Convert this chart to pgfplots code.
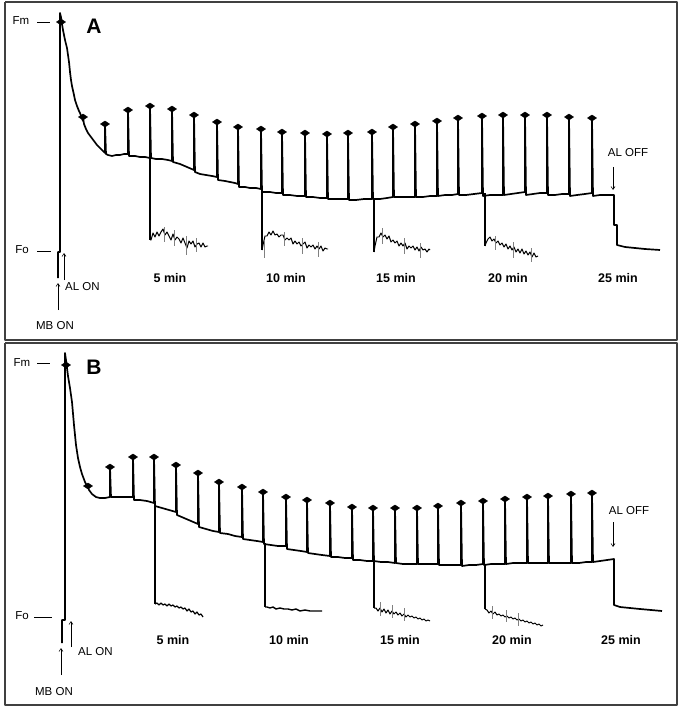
\documentclass[border=0pt]{standalone}
\usepackage{pgfplots}
\pgfplotsset{compat=1.18}
\usepackage{fontspec}
\setmainfont{Liberation Sans}
\usetikzlibrary{arrows.meta}
\begin{document}
\begin{tikzpicture}
\begin{axis}[
  scale only axis, width=682bp, height=711bp,
  xmin=0, xmax=682, ymin=0, ymax=711, y dir=reverse,
  hide axis, clip=false,
  every axis plot/.append style={line join=round},
]
% panel frames
\addplot[draw=black!75, line width=1.1pt, mark=none] coordinates {(5,2) (677,2) (677,340) (5,340) (5,2)};
\addplot[draw=black!75, line width=1.1pt, mark=none] coordinates {(5,343) (677,343) (677,705) (5,705) (5,343)};
\path (axis cs:0,0) (axis cs:682,711);

% ===== Panel A main trace =====
\addplot[black, line width=1.7pt, mark=none] coordinates {
(58,278) (58,252) (60,252) (60,13) (61,17) (62,24) (63,30) (64,35) (65,40) (66,44) (67,48) (68,55) (69,62) (70,72) (71,80) (72,86) (74,95) (75,100) (77,106) (79,111) (80,113) (83,121) (83,117) (84,124) (86,129) (88,133) (91,137) (94,141) (97,145) (100,148) (103,151) (105,153) (105,124) (106,154) (108,155) (112,156) (116,155) (120,155) (124,154) (128,154) (128,110) (129,156) (135,156) (140,157) (145,157) (150,158) (150,106) (151,158) (156,159) (162,159) (168,160) (172,161) (172,109) (173,162) (180,164) (187,167) (194,170) (194,115) (195,172) (200,174) (206,175) (212,176) (217,177) (217,122) (218,180) (225,181) (230,182) (235,183) (238,184) (238,127) (239,187) (245,187) (250,188) (256,188) (261,189) (261,129) (262,192) (270,192) (276,193) (282,193) (282,132) (283,195) (290,195) (297,196) (305,196) (305,133) (306,197) (313,197) (320,198) (327,198) (327,134) (328,199) (335,199) (342,199) (348,199) (348,133) (349,200) (356,200) (364,199) (372,199) (372,132) (373,199) (380,199) (387,198) (393,197) (393,127) (394,197) (400,197) (408,197) (415,197) (415,124) (416,197) (423,197) (430,196) (437,196) (437,121) (438,196) (445,195) (452,195) (458,194) (458,118) (459,195) (466,195) (474,194) (482,193) (482,116) (483,196) (490,195) (497,195) (503,195) (503,115) (504,195) (511,194) (518,193) (525,192) (525,115) (526,195) (533,194) (540,193) (547,193) (547,115) (548,195) (555,195) (562,194) (569,194) (569,117) (570,196) (577,195) (585,194) (592,193) (592,118) (593,196) (600,195) (607,195) (614,195) (614,225) (617,225) (617,245) (625,247) (635,248) (645,249) (660,250)
};
\addplot[black, only marks, mark=diamond*, mark size=3.8bp, mark options={xscale=1.6, yscale=0.8}] coordinates {
(61,22) (83,117) (105,124) (128,110) (150,106) (172,109) (194,115) (217,122) (238,127) (261,129) (282,132) (305,133) (327,134) (348,133) (372,132) (393,127) (415,124) (437,121) (458,118) (482,116) (503,115) (525,115) (547,115) (569,117) (592,118)
};
% dark relaxation traces A
\addplot[black, line width=1.7pt, mark=none] coordinates {(150,158) (150,240)};
\addplot[black, line width=1.0pt, mark=none] coordinates {
(150,240) (151,240) (153,233) (155,237) (157,232) (159,236) (161,232) (163,229) (165,235) (167,232) (169,236) (171,240) (173,234) (175,240) (177,237) (179,239) (181,243) (183,238) (185,243) (187,248) (189,241) (191,244) (193,241) (195,247) (197,244) (199,243) (201,247) (203,243) (205,247) (207,246) (208,246)
};
\addplot[black, line width=1.7pt, mark=none] coordinates {(262,192) (262,250)};
\addplot[black, line width=1.0pt, mark=none] coordinates {
(262,250) (263,245) (265,236) (267,236) (269,232) (271,235) (273,231) (275,235) (277,234) (279,237) (281,235) (283,235) (285,240) (287,238) (289,240) (291,238) (293,244) (295,241) (297,244) (299,242) (301,246) (303,244) (305,242) (307,248) (309,245) (311,247) (313,245) (315,249) (317,246) (319,249) (321,246) (323,251) (325,248) (327,249) (328,249)
};
\addplot[black, line width=1.7pt, mark=none] coordinates {(374,199) (374,252)};
\addplot[black, line width=1.0pt, mark=none] coordinates {
(374,252) (375,246) (377,237) (379,237) (381,233) (383,237) (385,235) (387,239) (389,236) (391,242) (393,240) (395,243) (397,241) (399,246) (401,243) (403,246) (405,243) (407,249) (409,246) (411,248) (413,246) (415,250) (417,247) (419,251) (421,247) (423,250) (425,249) (427,252) (429,249) (430,250)
};
\addplot[black, line width=1.7pt, mark=none] coordinates {(485,193) (485,246)};
\addplot[black, line width=1.0pt, mark=none] coordinates {
(485,246) (486,243) (488,239) (490,237) (492,241) (494,239) (496,243) (498,241) (500,245) (502,243) (504,247) (506,244) (508,249) (510,246) (512,250) (514,247) (516,252) (518,249) (520,253) (522,249) (524,254) (526,251) (528,255) (530,252) (532,257) (534,253) (536,257) (538,256)
};
\addplot[gray, line width=0.5pt, mark=none, unbounded coords=jump] coordinates {
(164,227) (164,242) (nan,nan) (174,230) (174,246) (nan,nan) (186,236) (186,255) (nan,nan) (196,238) (196,252) (nan,nan)
(264,240) (264,258) (nan,nan) (284,232) (284,246) (nan,nan) (302,238) (302,254) (nan,nan) (318,242) (318,257) (nan,nan)
(382,228) (382,244) (nan,nan) (404,238) (404,254) (nan,nan) (420,243) (420,258) (nan,nan)
(495,236) (495,250) (nan,nan) (513,242) (513,258) (nan,nan) (531,248) (531,262)
};

% ===== Panel B main trace =====
\addplot[black, line width=1.7pt, mark=none] coordinates {
(62,643) (62,620) (65,620) (65,353) (66,360) (67,368) (68,376) (70,388) (72,402) (74,425) (76,445) (78,458) (80,467) (82,474) (85,482) (88,488) (88,486) (89,490) (92,494) (96,497) (100,498) (105,498) (110,497) (110,467) (111,497) (118,497) (125,497) (133,497) (133,457) (134,500) (140,500) (147,501) (154,503) (154,457) (155,506) (162,508) (169,510) (176,512) (176,465) (177,515) (184,518) (191,521) (198,524) (198,473) (199,527) (206,529) (213,531) (219,532) (219,482) (220,533) (228,534) (235,536) (242,537) (242,487) (243,539) (250,540) (257,541) (263,542) (263,492) (264,544) (271,545) (278,546) (286,546) (286,497) (287,549) (294,550) (301,551) (307,552) (307,500) (308,553) (315,554) (322,555) (330,556) (330,503) (331,557) (338,557) (345,558) (352,558) (352,507) (353,560) (360,560) (367,561) (373,561) (373,508) (374,561) (381,562) (388,562) (395,563) (395,508) (396,563) (403,564) (410,564) (417,564) (417,508) (418,564) (425,564) (432,564) (438,564) (438,506) (439,565) (446,565) (454,565) (461,565) (461,503) (462,566) (469,565) (476,565) (483,564) (483,501) (484,565) (491,564) (498,564) (505,564) (505,499) (506,564) (513,563) (520,563) (527,563) (527,497) (528,563) (535,563) (542,563) (548,563) (548,496) (549,563) (556,563) (564,563) (571,563) (571,494) (572,563) (579,563) (586,562) (592,562) (592,493) (593,562) (600,561) (607,560) (614,559) (614,605) (620,607) (630,608) (640,609) (662,611)
};
\addplot[black, only marks, mark=diamond*, mark size=3.8bp, mark options={xscale=1.6, yscale=0.8}] coordinates {
(66,365) (88,486) (110,467) (133,457) (154,457) (176,465) (198,473) (219,482) (242,487) (263,492) (286,497) (307,500) (330,503) (352,507) (373,508) (395,508) (417,508) (438,506) (461,503) (483,501) (505,499) (527,497) (548,496) (571,494) (592,493)
};
% dark relaxation traces B
\addplot[black, line width=1.7pt, mark=none] coordinates {(155,505) (155,604)};
\addplot[black, line width=1.2pt, mark=none] coordinates {
(155,604) (157,603) (159,605) (161,603) (163,605) (165,604) (167,606) (169,604) (171,606) (173,605) (175,607) (177,606) (179,608) (181,607) (183,609) (185,608) (187,611) (189,609) (191,612) (193,611) (195,614) (197,612) (199,615) (201,614) (203,617)
};
\addplot[black, line width=1.7pt, mark=none] coordinates {(265,543) (265,607)};
\addplot[black, line width=1.4pt, mark=none] coordinates {
(265,607) (267,607) (270,608) (273,607) (276,609) (280,608) (284,609) (288,609) (292,610) (296,609) (300,611) (305,610) (310,611) (315,611) (322,611)
};
\addplot[black, line width=1.7pt, mark=none] coordinates {(374,561) (374,608)};
\addplot[black, line width=1.0pt, mark=none] coordinates {
(374,608) (376,608) (378,611) (380,608) (382,612) (384,609) (386,613) (388,610) (390,614) (392,611) (394,614) (396,612) (398,615) (400,613) (402,616) (404,614) (406,617) (408,615) (410,617) (412,616) (414,618) (416,617) (418,619) (420,618) (422,620) (424,619) (426,621) (428,620) (430,621)
};
\addplot[black, line width=1.7pt, mark=none] coordinates {(485,564) (485,609)};
\addplot[black, line width=1.0pt, mark=none] coordinates {
(485,609) (487,610) (489,613) (491,611) (493,614) (495,612) (497,615) (499,614) (501,616) (503,615) (505,617) (507,616) (509,618) (511,617) (513,619) (515,618) (517,620) (519,619) (521,621) (523,620) (525,622) (527,621) (529,623) (531,622) (533,624) (535,623) (537,625) (539,624) (541,626) (543,625)
};
\addplot[gray, line width=0.5pt, mark=none, unbounded coords=jump] coordinates {
(380,602) (380,616) (nan,nan) (392,605) (392,618) (nan,nan) (404,608) (404,621) (nan,nan)
(492,606) (492,619) (nan,nan) (506,610) (506,622) (nan,nan) (518,613) (518,626)
};

% ===== Labels =====
\begin{scope}[every node/.style={inner sep=0pt, font=\fontsize{11.5bp}{13bp}\selectfont}]
% Panel A
\node at (axis cs:21,21) {Fm};
\node at (axis cs:22,250) {Fo};
\node at (axis cs:55,326) {MB ON};
\node[anchor=west] at (axis cs:65,287) {AL ON};
\node at (axis cs:628,153) {AL OFF};
\node[font=\bfseries\fontsize{21bp}{24bp}\selectfont] at (axis cs:94,26) {A};
% Panel B
\node at (axis cs:22,363) {Fm};
\node at (axis cs:22,616) {Fo};
\node at (axis cs:54,692) {MB ON};
\node[anchor=west] at (axis cs:78,652) {AL ON};
\node at (axis cs:629,511) {AL OFF};
\node[font=\bfseries\fontsize{21bp}{24bp}\selectfont] at (axis cs:94,367) {B};
\end{scope}
\begin{scope}[every node/.style={inner sep=0pt, font=\bfseries\fontsize{12.5bp}{14bp}\selectfont}]
\node at (axis cs:170,278) {5 min};
\node at (axis cs:286,278) {10 min};
\node at (axis cs:396,278) {15 min};
\node at (axis cs:508,278) {20 min};
\node at (axis cs:618,278) {25 min};
\node at (axis cs:173,640) {5 min};
\node at (axis cs:289,640) {10 min};
\node at (axis cs:400,640) {15 min};
\node at (axis cs:512,640) {20 min};
\node at (axis cs:621,640) {25 min};
\end{scope}
% Fm / Fo dashes
\draw[black, line width=0.7pt] (axis cs:37,22) -- (axis cs:50,22);
\draw[black, line width=0.7pt] (axis cs:37,251) -- (axis cs:51,251);
\draw[black, line width=0.7pt] (axis cs:37,363) -- (axis cs:50,363);
\draw[black, line width=0.7pt] (axis cs:34,617) -- (axis cs:52,617);
% arrows
\begin{scope}[line width=0.6pt, -{Straight Barb[length=3bp, width=4bp]}]
\draw (axis cs:58,310) -- (axis cs:58,283);
\draw (axis cs:64,280) -- (axis cs:64,253);
\draw (axis cs:613,167) -- (axis cs:613,190);
\draw (axis cs:61,675) -- (axis cs:61,648);
\draw (axis cs:71,647) -- (axis cs:71,621);
\draw (axis cs:613,522) -- (axis cs:613,547);
\end{scope}
\end{axis}
\end{tikzpicture}
\end{document}
